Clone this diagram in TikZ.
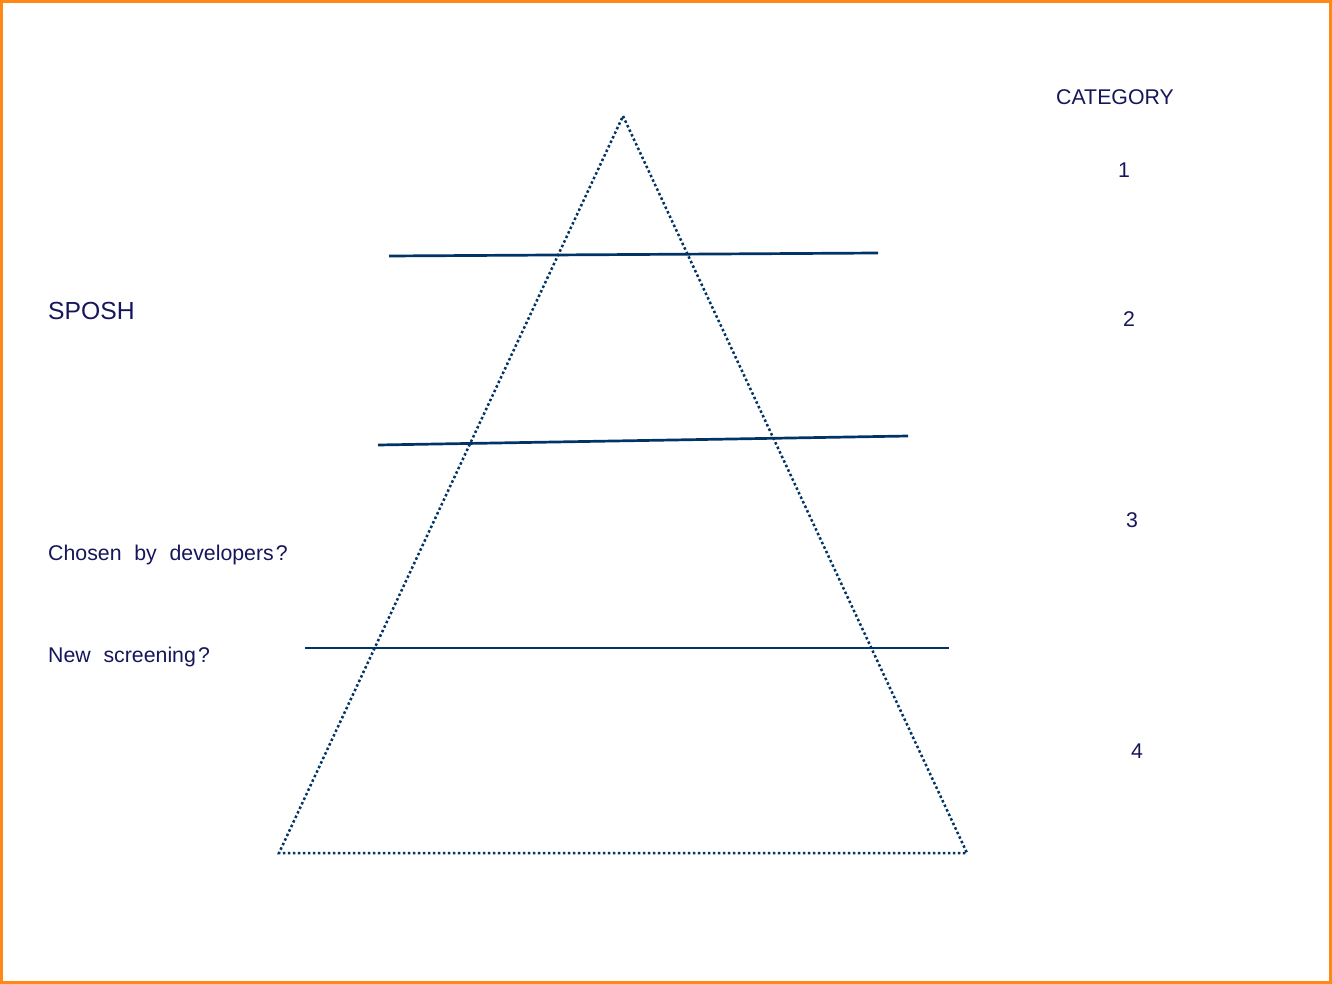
\documentclass[tikz,border=0pt]{standalone}
\usepackage{fontspec}
\setmainfont{Liberation Sans}
\definecolor{frameor}{RGB}{255,137,20}
\definecolor{navytxt}{RGB}{22,22,90}
\definecolor{linebl}{RGB}{0,51,102}
\tikzset{
  lbl/.style={text=navytxt, inner sep=0pt, font=\fontsize{21.3}{24}\selectfont},
  sep/.style={draw=linebl, line width=2.7pt},
  tri/.style={draw=linebl, line width=2.5pt, dash pattern=on 2.5pt off 2.5pt}
}
\begin{document}
\begin{tikzpicture}[x=1pt,y=-1pt]
\useasboundingbox (0,0) rectangle (1332,984);
\fill[white] (0,0) rectangle (1332,984);
\draw[frameor, line width=3pt] (1.5,1.5) rectangle (1330,982.5);
% pyramid
\coordinate (apex) at (623,116);
\coordinate (bl) at (279,853);
\coordinate (br) at (967,853);
\draw[tri] (apex) -- (br) -- (bl) -- cycle;
% separators
\coordinate (s1a) at (389,256); \coordinate (s1b) at (878,253);
\coordinate (s2a) at (378,445); \coordinate (s2b) at (908,436);
\coordinate (s3a) at (305,648); \coordinate (s3b) at (949,648);
\draw[sep] (s1a) -- (s1b);
\draw[sep] (s2a) -- (s2b);
\draw[sep] (s3a) -- (s3b);
% labels
\node[lbl, anchor=west, font=\fontsize{24.7}{28}\selectfont] (sposh) at (48,311) {SPOSH};
\node[lbl, anchor=west] (chosen) at (48,555) {Chosen\hspace{0.6em}by\hspace{0.6em}developers\hspace{0.1em}?};
\node[lbl, anchor=west] (newscr) at (48,657) {New\hspace{0.6em}screening\hspace{0.1em}?};
\node[lbl] (cat) at (1115,97) {CATEGORY};
\node[lbl] (c1) at (1124,170) {1};
\node[lbl] (c2) at (1129,319) {2};
\node[lbl] (c3) at (1132,520) {3};
\node[lbl] (c4) at (1137,751) {4};
\end{tikzpicture}
\end{document}
